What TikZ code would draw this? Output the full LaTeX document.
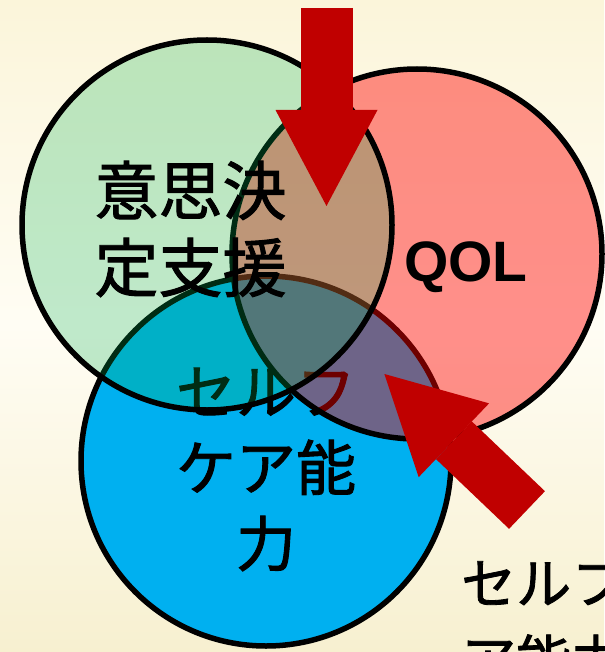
\documentclass[tikz,border=0pt]{standalone}
\usepackage{fontspec}
\newfontfamily\jpfont{Noto Sans CJK JP}[FakeBold=1.5]
\newfontfamily\qolfont{Liberation Sans}
\usetikzlibrary{arrows.meta}
\definecolor{circlegreen}{RGB}{0,176,80}
\definecolor{circlered}{RGB}{255,0,0}
\definecolor{circleblue}{RGB}{0,176,240}
\definecolor{arrowred}{RGB}{192,0,0}
\definecolor{bgtop}{RGB}{251,245,218}
\definecolor{bgmid}{RGB}{255,253,244}
\definecolor{bgbot}{RGB}{247,240,208}
\tikzset{
  ring/.style={circle,draw=black,line width=5.5pt,minimum size=370pt,inner sep=0pt},
  bigtext/.style={font=\jpfont\fontsize{60pt}{76pt}\selectfont,align=center,inner sep=0pt},
  blockarrow/.style={draw=arrowred,line width=52pt,-{Triangle[length=96pt,width=102pt,line width=0pt]}},
}
\begin{document}
\begin{tikzpicture}[x=1pt,y=-1pt]
    %% background
    \useasboundingbox (0,0) rectangle (604,652);
    \shade [top color=bgtop,bottom color=bgbot,middle color=bgmid] (0,0) rectangle (604,652);
    %% circles
    \node (self) at (266,461) [ring,fill=circleblue] {};
    \node (selftext) at (266,469.5) [bigtext] {セルフ\\ケア能\\力};
    \node (qol) at (417,254) [ring,fill=circlered,fill opacity=0.43] {};
    \node (decision) at (207,225) [ring,fill=circlegreen,fill opacity=0.25] {};
    \node (decisiontext) at (190.5,229) [bigtext,font=\jpfont\fontsize{64pt}{77pt}\selectfont] {意思決\\定支援};
    \node (qoltext) at (466,281) [anchor=base,inner sep=0pt,font=\qolfont\bfseries\fontsize{57pt}{60pt}\selectfont] {QOL};
    %% arrows
    \coordinate (toptail) at (326.5,8);
    \coordinate (toptip) at (326.5,206);
    \coordinate (sidetail) at (527,510);
    \coordinate (sidetip) at (384.4,374);
    \draw [blockarrow] (toptail) -- (toptip);
    \draw [blockarrow] (sidetail) -- (sidetip);
    \node (sidetext) at (461,560) [anchor=north west,align=left,inner sep=0pt,font=\jpfont\fontsize{55pt}{77pt}\selectfont] {セルフケ\\ア能力};
    %
\end{tikzpicture}
\end{document}
